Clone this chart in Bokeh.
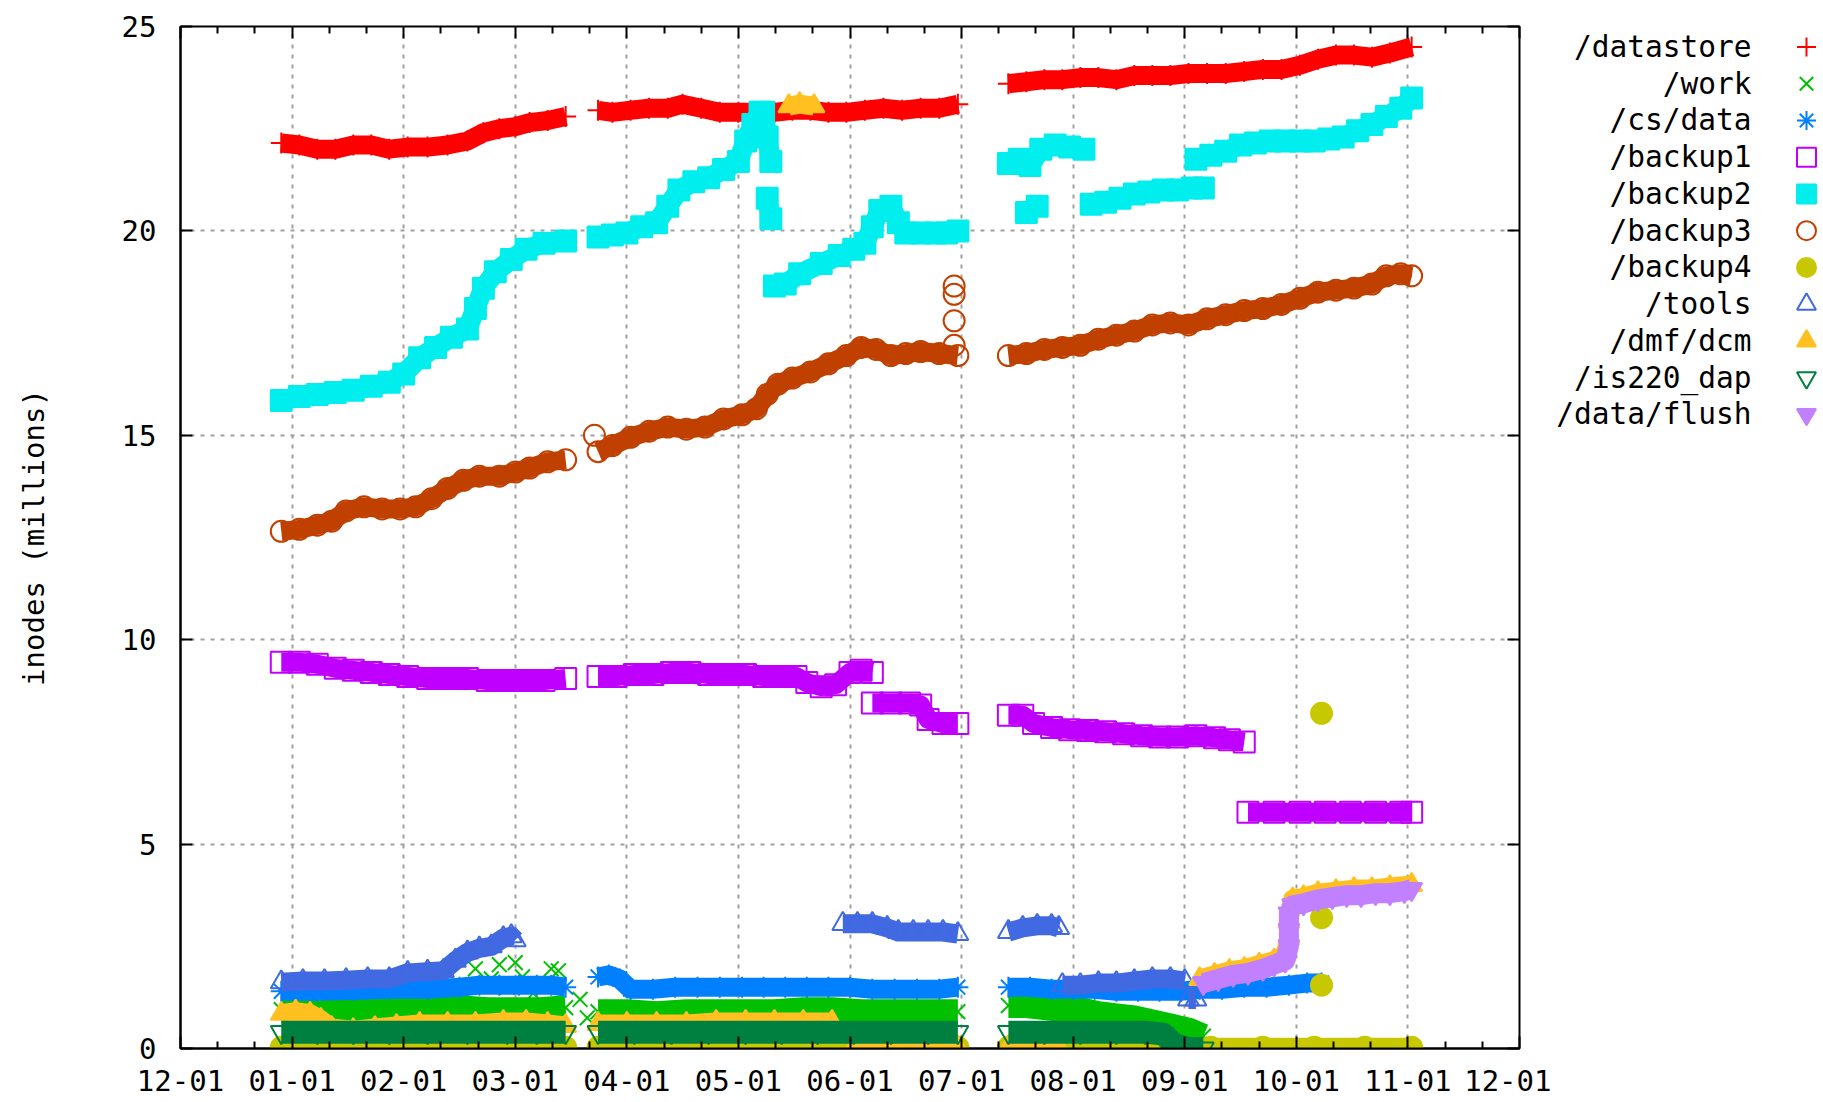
import numpy as np
from bokeh.plotting import figure
from bokeh.layouts import row
from bokeh.models import Range1d, FixedTicker, LinearAxis
from bokeh.embed import file_html
from bokeh.resources import INLINE
from bokeh.core.properties import value

# ---------------- axis ticks ----------------
tick_labels = ["12-01", "01-01", "02-01", "03-01", "04-01", "05-01", "06-01",
               "07-01", "08-01", "09-01", "10-01", "11-01", "12-01"]
y_ticks = [0, 5, 10, 15, 20, 25]
month_order = ["12", "01", "02", "03", "04", "05", "06", "07", "08", "09", "10", "11"]
month_days = [31, 31, 28, 31, 30, 31, 30, 31, 31, 30, 31, 30]

# ---------------- data (inodes, millions) ----------------
datastore_dates = ["12-29", "01-03", "01-08", "01-13", "01-18", "01-23", "01-28", "02-02", "02-07", "02-12",
                   "02-17", "02-21", "02-25", "03-01", "03-05", "03-10", "03-15", "03-19",
                   "03-24", "03-28", "04-02", "04-07", "04-12", "04-16", "04-21", "04-26", "05-01", "05-06",
                   "05-11", "05-16", "05-21", "05-26", "05-31", "06-05", "06-10", "06-15", "06-20", "06-25",
                   "06-30", "07-06",
                   "07-14", "07-19", "07-24", "07-29", "08-03", "08-08", "08-13", "08-18", "08-23", "08-28",
                   "09-02", "09-07", "09-12", "09-17", "09-22", "09-27", "10-02", "10-07", "10-12", "10-17",
                   "10-22", "10-27", "11-02"]
datastore_vals = [22.15, 22.1, 22.0, 22.0, 22.1, 22.1, 22.0, 22.05, 22.05, 22.1,
                  22.2, 22.4, 22.5, 22.55, 22.65, 22.7, 22.8, None,
                  22.95, 22.9, 22.95, 23.0, 23.0, 23.1, 23.0, 22.9, 22.9, 22.9,
                  22.9, 22.95, 22.95, 22.9, 22.9, 22.95, 23.0, 22.95, 23.0, 23.0,
                  23.1, None,
                  23.6, 23.65, 23.7, 23.7, 23.75, 23.75, 23.7, 23.8, 23.8, 23.8,
                  23.85, 23.85, 23.85, 23.9, 23.95, 23.95, 24.05, 24.2, 24.3, 24.3,
                  24.25, 24.35, 24.5]

work_dates = ["12-29", "01-06", "01-14", "01-22", "01-30", "02-07", "02-15", "02-22", "03-01", "03-08", "03-15", "03-19",
              "03-24", "04-01", "04-09", "04-17", "04-25", "05-03", "05-11", "05-19", "05-27", "06-04", "06-12",
              "06-20", "06-30", "07-06",
              "07-14", "07-19", "07-24", "07-29", "08-03", "08-08", "08-13", "08-18", "08-23", "08-28", "09-02", "09-06"]
work_vals = [0.95, 0.95, 0.95, 0.95, 1.0, 1.0, 1.0, 0.95, 0.95, 0.95, 1.0, None,
             0.9, 0.9, 0.85, 0.9, 0.9, 0.9, 0.9, 0.95, 0.95, 0.9, 0.9,
             0.9, 0.9, None,
             1.05, 1.05, 1.0, 0.95, 0.95, 0.85, 0.8, 0.75, 0.65, 0.55, 0.45, 0.3]
work_extra_dates = ["02-19", "02-23", "02-25", "02-27", "03-01", "03-03", "03-06", "03-11", "03-13", "03-19", "03-21"]
work_extra_vals = [1.95, 1.7, 2.05, 1.5, 2.1, 1.75, 1.35, 1.95, 1.9, 1.2, 0.75]

csdata_dates = ["12-29", "01-08", "01-18", "01-28", "02-07", "02-15", "02-20", "02-25", "03-02", "03-07", "03-11",
                "03-15", "03-19",
                "03-24", "03-27", "03-30", "04-02", "04-08", "04-14", "04-20", "04-26", "05-02", "05-08", "05-14",
                "05-20", "05-26", "06-01", "06-07", "06-13", "06-19", "06-25", "06-30", "07-06",
                "07-14", "07-20", "07-26", "08-01", "08-07", "08-13", "08-19", "08-25", "08-31", "09-05", "09-11",
                "09-17", "09-23", "09-29", "10-04", "10-08"]
csdata_vals = [1.4, 1.4, 1.42, 1.45, 1.45, 1.5, 1.55, 1.55, 1.55, 1.55, 1.55,
               1.5, None,
               1.75, 1.8, 1.7, 1.45, 1.45, 1.5, 1.5, 1.5, 1.5, 1.5, 1.5,
               1.5, 1.5, 1.5, 1.45, 1.45, 1.45, 1.45, 1.5, None,
               1.5, 1.5, 1.45, 1.45, 1.45, 1.4, 1.4, 1.4, 1.4, 1.45, 1.45,
               1.5, 1.5, 1.55, 1.6, 1.6]

backup1_dates = ["12-29", "01-03", "01-08", "01-13", "01-18", "01-23", "01-28", "02-02", "02-07", "02-12", "02-17",
                 "02-22", "02-27", "03-04", "03-09", "03-15", "03-19",
                 "03-24", "03-29", "04-03", "04-08", "04-13", "04-18", "04-23", "04-28", "05-03", "05-08", "05-13",
                 "05-17", "05-20", "05-24", "05-28", "06-01", "06-04", "06-07", "06-07",
                 "06-07", "06-12", "06-17", "06-20", "06-22", "06-26", "06-30", "07-06",
                 "07-14", "07-18", "07-21", "07-26", "07-31", "08-05", "08-10", "08-15", "08-20", "08-25", "08-30",
                 "09-04", "09-09", "09-13", "09-17", "09-17",
                 "09-18", "09-25", "10-02", "10-09", "10-16", "10-23", "10-30", "11-02"]
backup1_vals = [9.45, 9.45, 9.4, 9.3, 9.25, 9.2, 9.15, 9.1, 9.05, 9.05, 9.05,
                9.0, 9.0, 9.0, 9.0, 9.05, None,
                9.1, 9.1, 9.15, 9.15, 9.2, 9.2, 9.15, 9.15, 9.15, 9.1, 9.1,
                9.1, 8.95, 8.85, 8.9, 9.2, 9.25, 9.2, None,
                8.45, 8.45, 8.45, 8.4, 8.05, 7.95, 7.95, None,
                8.15, 8.15, 7.95, 7.85, 7.8, 7.78, 7.75, 7.7, 7.65, 7.62, 7.62,
                7.65, 7.6, 7.55, 7.5, None,
                5.78, 5.78, 5.78, 5.78, 5.78, 5.78, 5.78, 5.78]

backup2_dates = ["12-29", "01-03", "01-08", "01-13", "01-18", "01-23", "01-28", "02-01", "02-05", "02-09", "02-13",
                 "02-17", "02-19", "02-21", "02-24", "02-28", "03-04", "03-09", "03-15", "03-19",
                 "03-24", "03-28", "04-01", "04-05", "04-09", "04-12", "04-15", "04-19", "04-23", "04-27", "05-01",
                 "05-03", "05-05", "05-07", "05-08", "05-09", "05-10", "05-10",
                 "05-09", "05-10", "05-10",
                 "05-11", "05-14", "05-18", "05-24", "05-29", "06-02", "06-05", "06-07", "06-09", "06-12", "06-14",
                 "06-16", "06-20", "06-24", "06-27", "06-30", "07-06",
                 "07-14", "07-17", "07-20", "07-23", "07-27", "07-31", "08-04", "08-04",
                 "07-19", "07-22", "07-22",
                 "08-06", "08-10", "08-14", "08-18", "08-22", "08-26", "08-30", "09-03", "09-06", "09-06",
                 "09-04", "09-08", "09-12", "09-16", "09-20", "09-24", "09-28", "10-02", "10-06", "10-10", "10-14",
                 "10-18", "10-22", "10-26", "10-30", "11-02"]
backup2_vals = [15.85, 15.95, 16.0, 16.05, 16.1, 16.2, 16.3, 16.5, 16.9, 17.15, 17.4,
                17.6, 18.1, 18.6, 19.0, 19.3, 19.55, 19.7, 19.75, None,
                19.85, 19.9, 19.95, 20.1, 20.2, 20.6, 21.0, 21.2, 21.3, 21.5, 21.7,
                22.2, 22.6, 22.9, 22.9, 22.3, 21.7, None,
                20.8, 20.3, None,
                18.65, 18.7, 18.95, 19.2, 19.4, 19.55, 19.7, 20.1, 20.5, 20.6, 20.2,
                19.95, 19.95, 19.95, 19.95, 20.0, None,
                21.65, 21.75, 21.6, 22.0, 22.1, 22.05, 22.0, None,
                20.45, 20.6, None,
                20.65, 20.7, 20.8, 20.9, 20.95, 21.0, 21.0, 21.05, 21.05, None,
                21.75, 21.85, 21.95, 22.1, 22.15, 22.2, 22.2, 22.2, 22.2, 22.25, 22.3,
                22.45, 22.6, 22.8, 23.0, 23.25]

backup3_dates = ["12-29", "01-03", "01-08", "01-12", "01-16", "01-21", "01-26", "01-31", "02-04", "02-08", "02-12",
                 "02-16", "02-20", "02-25", "03-01", "03-05", "03-10", "03-15", "03-19",
                 "03-24", "03-28", "04-02", "04-07", "04-12", "04-17", "04-22", "04-27", "05-02", "05-06", "05-09",
                 "05-12", "05-16", "05-21", "05-26", "05-31", "06-04", "06-08", "06-12", "06-16", "06-20", "06-25",
                 "06-30", "07-06",
                 "07-14", "07-19", "07-24", "07-29", "08-03", "08-08", "08-13", "08-18", "08-23", "08-28", "09-02",
                 "09-07", "09-12", "09-17", "09-22", "09-27", "10-02", "10-07", "10-12", "10-17", "10-22", "10-26",
                 "10-30", "11-02"]
backup3_vals = [12.65, 12.7, 12.8, 12.9, 13.15, 13.25, 13.2, 13.2, 13.25, 13.45, 13.7,
                13.9, 14.0, 14.0, 14.1, 14.2, 14.35, 14.4, None,
                14.6, 14.75, 14.95, 15.1, 15.2, 15.15, 15.2, 15.4, 15.5, 15.65, 16.0,
                16.25, 16.4, 16.55, 16.75, 16.95, 17.15, 17.1, 16.95, 17.0, 17.05, 17.0,
                16.95, None,
                16.95, 17.0, 17.1, 17.15, 17.2, 17.35, 17.45, 17.55, 17.7, 17.75, 17.7,
                17.85, 17.95, 18.05, 18.1, 18.2, 18.35, 18.5, 18.55, 18.6, 18.7, 18.9,
                18.95, 18.9]
backup3_extra_dates = ["03-23", "06-29", "06-29", "06-29", "06-29"]
backup3_extra_vals = [15.0, 18.65, 18.45, 17.8, 17.2]

backup4_dates = ["12-29", "01-12", "01-26", "02-09", "02-23", "03-08", "03-15", "03-19",
                 "03-24", "04-07", "04-21", "05-05", "05-19", "06-02", "06-16", "06-30", "07-06",
                 "07-14", "07-28", "08-11", "08-25", "09-08", "09-22", "10-06", "10-20", "11-02"]
backup4_vals = [0.03, 0.03, 0.03, 0.03, 0.03, 0.03, 0.03, None,
                0.03, 0.03, 0.03, 0.03, 0.03, 0.03, 0.03, 0.03, None,
                0.03, 0.03, 0.03, 0.03, 0.03, 0.03, 0.03, 0.03, 0.03]
backup4_extra_dates = ["10-08", "10-08", "10-08"]
backup4_extra_vals = [8.2, 3.2, 1.55]

tools_dates = ["12-29", "01-04", "01-10", "01-16", "01-22", "01-28", "02-02", "02-07", "02-11", "02-14", "02-17",
               "02-20", "02-23", "02-26", "02-28", "03-01", "03-05",
               "05-30", "06-03", "06-07", "06-11", "06-14", "06-18", "06-22", "06-26", "06-30", "07-06",
               "07-14", "07-18", "07-22", "07-26", "07-28", "07-28",
               "07-29", "08-03", "08-08", "08-13", "08-18", "08-23", "08-28", "09-01", "09-01",
               "09-02", "09-04"]
tools_vals = [1.62, 1.65, 1.65, 1.67, 1.7, 1.7, 1.85, 1.88, 1.9, 2.15, 2.35,
              2.45, 2.5, 2.7, 2.75, 2.65, None,
              3.05, 3.05, 3.05, 2.95, 2.85, 2.85, 2.85, 2.85, 2.8, None,
              2.85, 2.95, 3.0, 3.0, 2.95, None,
              1.55, 1.55, 1.6, 1.6, 1.65, 1.7, 1.7, 1.65, None,
              1.2, 1.2]

dmf_dates = ["12-29", "01-02", "01-06", "01-09", "01-12", "01-18", "01-24", "01-30", "02-05", "02-12", "02-19",
             "02-26", "03-04", "03-10", "03-15", "03-19",
             "03-24", "04-01", "04-09", "04-17", "04-25", "05-03", "05-11", "05-19", "05-27", "05-30",
             "05-15", "05-18", "05-22", "05-23",
             "06-02", "06-10", "06-18", "06-26", "06-30", "07-06",
             "07-14", "07-21", "07-28", "08-15",
             "09-05", "09-09", "09-13", "09-17", "09-21", "09-25", "09-28", "09-29", "09-29", "09-30", "10-03",
             "10-07", "10-12", "10-17", "10-22", "10-27", "11-02"]
dmf_vals = [0.85, 0.9, 0.85, 0.7, 0.5, 0.45, 0.5, 0.55, 0.6, 0.6, 0.6,
            0.65, 0.65, 0.6, 0.55, None,
            0.6, 0.6, 0.6, 0.6, 0.65, 0.65, 0.65, 0.65, 0.65, None,
            23.05, 23.1, 23.05, None,
            0.03, 0.03, 0.03, 0.03, 0.03, None,
            0.03, 0.03, 0.03, None,
            1.7, 1.8, 1.9, 1.95, 2.05, 2.15, 2.3, 2.7, 3.1, 3.65, 3.7,
            3.8, 3.85, 3.9, 3.9, 3.95, 4.0]

is220_dates = ["12-29", "01-08", "01-18", "01-28", "02-07", "02-17", "02-27", "03-07", "03-15", "03-19",
               "03-24", "04-03", "04-13", "04-23", "05-03", "05-13", "05-23", "06-02", "06-12", "06-22", "06-30",
               "07-06",
               "07-14", "07-24", "08-03", "08-13", "08-21", "08-26", "08-29", "09-02", "09-06"]
is220_vals = [0.4, 0.4, 0.4, 0.4, 0.4, 0.4, 0.4, 0.4, 0.4, None,
              0.4, 0.4, 0.4, 0.4, 0.4, 0.4, 0.4, 0.4, 0.4, 0.4, 0.4,
              None,
              0.4, 0.4, 0.4, 0.4, 0.4, 0.35, 0.1, 0.0, 0.0]

flush_dates = ["09-06", "09-10", "09-14", "09-18", "09-22", "09-25", "09-28", "09-29", "09-29", "09-29", "09-30",
               "10-03", "10-07", "10-11", "10-15", "10-19", "10-23", "10-27", "10-31", "11-02"]
flush_vals = [1.6, 1.7, 1.8, 1.85, 1.95, 2.05, 2.15, 2.5, 2.9, 3.3, 3.5,
              3.55, 3.65, 3.7, 3.75, 3.75, 3.8, 3.8, 3.85, 3.9]

# name, dates, values, extra-point dates, extra-point values, colour, marker, filled, band width (px)
series = [
    ("/datastore", datastore_dates, datastore_vals, [], [], "#ff0000", "cross", False, 19),
    ("/work", work_dates, work_vals, work_extra_dates, work_extra_vals, "#00c000", "x", False, 25),
    ("/cs/data", csdata_dates, csdata_vals, [], [], "#0080ff", "asterisk", False, 19),
    ("/backup1", backup1_dates, backup1_vals, [], [], "#c000ff", "square", False, 19),
    ("/backup2", backup2_dates, backup2_vals, [], [], "#00eeee", "square", True, 20),
    ("/backup3", backup3_dates, backup3_vals, backup3_extra_dates, backup3_extra_vals, "#c04000", "circle", False, 19),
    ("/backup4", backup4_dates, backup4_vals, backup4_extra_dates, backup4_extra_vals, "#c8c800", "circle", True, 19),
    ("/tools", tools_dates, tools_vals, [], [], "#4169e1", "triangle", False, 19),
    ("/dmf/dcm", dmf_dates, dmf_vals, [], [], "#ffc020", "triangle", True, 19),
    ("/is220_dap", is220_dates, is220_vals, [], [], "#008040", "inverted_triangle", False, 23),
    ("/data/flush", flush_dates, flush_vals, [], [], "#c080ff", "inverted_triangle", True, 20),
]


def to_x(md):
    m, d = md.split("-")
    i = month_order.index(m)
    return i + (int(d) - 1) / month_days[i]


FONT = "DejaVu Sans Mono"
FS = "29px"
H = 1102
MAIN_W = 1551
TOTAL_W = 1823
FRAME_TOP = 26
FRAME_BOTTOM = 1048

p = figure(width=MAIN_W, height=H, x_range=Range1d(0, 12), y_range=Range1d(0, 25),
           output_backend="svg", toolbar_location=None,
           min_border_left=180, min_border_top=FRAME_TOP, min_border_right=MAIN_W - 180 - 1339,
           min_border_bottom=H - FRAME_BOTTOM)
p.background_fill_color = "white"
p.border_fill_color = "white"
p.outline_line_color = "black"
p.outline_line_width = 2

x_ticker = FixedTicker(ticks=list(range(len(tick_labels))),
                       minor_ticks=[k + f for k in range(len(tick_labels) - 1) for f in (1 / 3, 2 / 3)])
y_ticker = FixedTicker(ticks=y_ticks, minor_ticks=[])

for ax in p.xaxis:
    ax.ticker = x_ticker
    ax.major_label_overrides = {i: lab for i, lab in enumerate(tick_labels)}
    ax.major_tick_in = 12
    ax.major_tick_out = 0
    ax.minor_tick_in = 7
    ax.minor_tick_out = 0
    ax.major_label_standoff = 21
    ax.major_label_text_font = FONT
    ax.major_label_text_font_size = FS
    ax.major_label_text_color = "black"
    ax.axis_line_color = "black"
    ax.axis_line_width = 2
    ax.major_tick_line_width = 2
    ax.minor_tick_line_width = 2

for ax in p.yaxis:
    ax.ticker = y_ticker
    ax.major_tick_in = 12
    ax.major_tick_out = 0
    ax.minor_tick_in = 0
    ax.minor_tick_out = 0
    ax.major_label_standoff = 24
    ax.major_label_text_font = FONT
    ax.major_label_text_font_size = FS
    ax.major_label_text_color = "black"
    ax.axis_line_color = "black"
    ax.axis_line_width = 2
    ax.major_tick_line_width = 2
    ax.axis_label = "inodes (millions)"
    ax.axis_label_text_font = FONT
    ax.axis_label_text_font_size = FS
    ax.axis_label_text_font_style = "normal"
    ax.axis_label_text_color = "black"
    ax.axis_label_standoff = 68

top_axis = LinearAxis(ticker=x_ticker, major_tick_in=12, major_tick_out=0, minor_tick_in=7, minor_tick_out=0,
                      major_label_overrides={i: "" for i in range(len(tick_labels))},
                      major_label_text_font_size="1px", major_label_standoff=0,
                      axis_line_color=None, major_tick_line_width=2, minor_tick_line_width=2)
p.add_layout(top_axis, "above")
right_axis = LinearAxis(ticker=y_ticker, major_tick_in=12, major_tick_out=0, minor_tick_in=0, minor_tick_out=0,
                        major_label_overrides={t: "" for t in y_ticks},
                        major_label_text_font_size="1px", major_label_standoff=0,
                        axis_line_color=None, major_tick_line_width=2)
p.add_layout(right_axis, "right")

for g in (p.xgrid, p.ygrid):
    g.grid_line_color = "#a0a0a0"
    g.grid_line_dash = "4 6"
    g.grid_line_width = 2
p.xgrid.ticker = x_ticker
p.ygrid.ticker = y_ticker

MS = 21
for name, dates, vals, xd, xv, color, marker, filled, lw in series:
    xs = np.array([to_x(d) for d in dates])
    ys = np.array(vals, dtype=float)
    p.line(xs, ys, line_color=color, line_width=lw, line_join="round")
    ok = ~np.isnan(ys)
    px = list(xs[ok]) + [to_x(d) for d in xd]
    py = list(ys[ok]) + list(xv)
    p.scatter(px, py, marker=marker, size=MS, line_color=color, line_width=2,
              fill_color=color if filled else None)

# ---------------- legend (label right-aligned, symbol to the right) ----------------
# The row aligns this figure's frame with the main frame, so its y range is set so that
# a data y equals (H - canvas pixel row).
LEG_W = TOTAL_W - MAIN_W
leg = figure(width=LEG_W, height=H, x_range=Range1d(0, LEG_W),
             y_range=Range1d(H - FRAME_BOTTOM, H - FRAME_TOP),
             output_backend="svg", toolbar_location=None, x_axis_location=None, y_axis_location=None,
             min_border_left=0, min_border_right=0, min_border_top=FRAME_TOP, min_border_bottom=H - FRAME_BOTTOM)
leg.outline_line_color = None
leg.xgrid.visible = False
leg.ygrid.visible = False
leg.background_fill_color = "white"
leg.border_fill_color = "white"

row_top = H - 46.5
row_step = 36.74
text_right = 1751 - MAIN_W
symbol_x = 1806 - MAIN_W
for i, (name, dates, vals, xd, xv, color, marker, filled, lw) in enumerate(series):
    yy = row_top - i * row_step
    leg.text(x=[text_right], y=[yy], text=[name], text_align="right", text_baseline="middle",
             text_font=value(FONT), text_font_size="29.5px", text_color="black")
    leg.scatter([symbol_x], [yy], marker=marker, size=19, line_color=color, line_width=2,
                fill_color=color if filled else None)

layout = row(p, leg)
open("out.html", "w").write(file_html(layout, INLINE))
